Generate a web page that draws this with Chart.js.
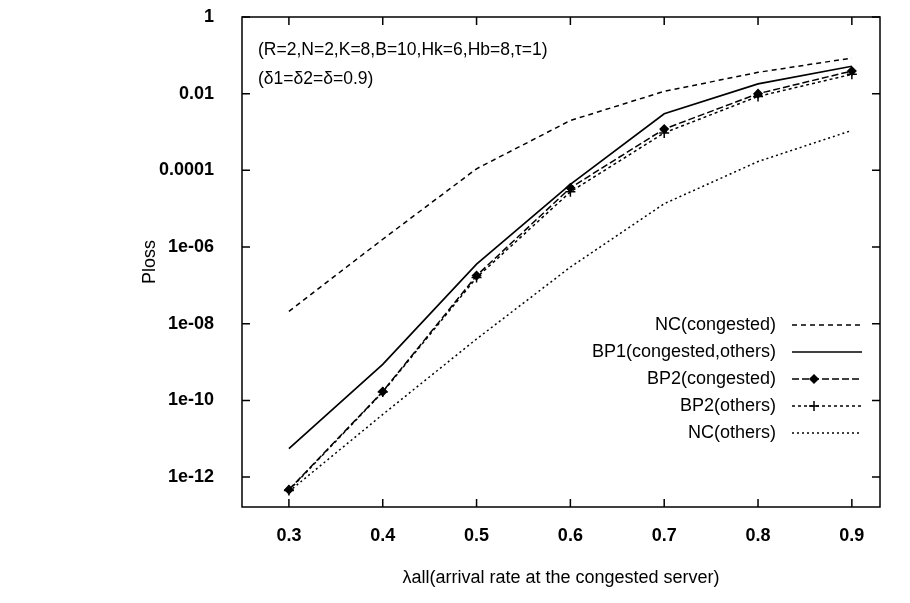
<!DOCTYPE html>
<html>
<head>
<meta charset="utf-8">
<script src="https://cdn.jsdelivr.net/npm/chart.js@4.4.0/dist/chart.umd.min.js"></script>
<style>
  html, body { margin: 0; padding: 0; background: #fff; }
  #wrap { width: 910px; height: 603px; }
</style>
</head>
<body>
<div id="wrap"><canvas id="chart" width="910" height="603"></canvas></div>
<script>
// arrival rate at the congested server
const lambdas = [0.3, 0.4, 0.5, 0.6, 0.7, 0.8, 0.9];

// loss probabilities
const ncCongested  = [2.1e-8, 1.6e-6, 1.1e-4, 2.0e-3, 1.15e-2, 3.6e-2, 8.5e-2];
const bp1          = [5.5e-12, 8.7e-10, 3.6e-7, 4.3e-5, 3.0e-3, 1.8e-2, 5.2e-2];
const bp2Congested = [4.7e-13, 1.7e-10, 1.8e-7, 3.5e-5, 1.2e-3, 1.0e-2, 3.9e-2];
const bp2Others    = [4.5e-13, 1.65e-10, 1.6e-7, 2.75e-5, 9.5e-4, 8.5e-3, 3.2e-2];
const ncOthers     = [4.2e-13, 4.3e-11, 4.0e-9, 3.0e-7, 1.35e-5, 1.7e-4, 1.1e-3];

const xTicks = [0.3, 0.4, 0.5, 0.6, 0.7, 0.8, 0.9];
const yTicks = [1e-12, 1e-10, 1e-8, 1e-6, 1e-4, 1e-2, 1];
const yTickLabels = ['1e-12', '1e-10', '1e-08', '1e-06', '0.0001', '0.01', '1'];

const seriesNames = ['NC(congested)', 'BP1(congested,others)', 'BP2(congested)', 'BP2(others)', 'NC(others)'];
const notes = ['(R=2,N=2,K=8,B=10,Hk=6,Hb=8,\u03c4=1)', '(\u03b41=\u03b42=\u03b4=0.9)'];

const FONT = "'Liberation Sans', Arial, Helvetica, sans-serif";

const toPoints = (ys) => ys.map((y, i) => ({ x: lambdas[i], y: y }));

const mkSet = (label, data, dash, width, style, radius) => ({
    label: label,
    data: toPoints(data),
    borderColor: '#000',
    backgroundColor: '#000',
    borderWidth: width,
    borderDash: dash,
    pointStyle: style || 'circle',
    pointRadius: radius || 0,
    pointBorderWidth: 1.5,
    pointHoverRadius: radius || 0,
    tension: 0,
    fill: false
});

const datasets = [
    mkSet(seriesNames[0], ncCongested, [5, 4], 1.5),
    mkSet(seriesNames[1], bp1, [], 1.7),
    mkSet(seriesNames[2], bp2Congested, [7, 3], 1.5, 'rectRot', 4),
    mkSet(seriesNames[3], bp2Others, [3, 3], 1.5, 'cross', 5),
    mkSet(seriesNames[4], ncOthers, [2, 3], 1.5)
];

// gnuplot-like frame with inward ticks, notes and legend
const gnuFrame = {
    id: 'gnuFrame',
    afterDraw(chart) {
        const ctx = chart.ctx;
        const a = chart.chartArea;
        const xs = chart.scales.x;
        const ys = chart.scales.y;
        ctx.save();
        ctx.strokeStyle = '#000';
        ctx.lineWidth = 1.5;
        ctx.setLineDash([]);
        ctx.strokeRect(a.left, a.top, a.right - a.left, a.bottom - a.top);

        const tl = 8;
        ctx.beginPath();
        for (const v of xTicks) {
            const px = xs.getPixelForValue(v);
            ctx.moveTo(px, a.bottom); ctx.lineTo(px, a.bottom - tl);
            ctx.moveTo(px, a.top); ctx.lineTo(px, a.top + tl);
        }
        for (const v of yTicks) {
            const py = ys.getPixelForValue(v);
            ctx.moveTo(a.left, py); ctx.lineTo(a.left + tl, py);
            ctx.moveTo(a.right, py); ctx.lineTo(a.right - tl, py);
        }
        ctx.stroke();

        // parameter notes
        ctx.fillStyle = '#000';
        ctx.font = '17.5px ' + FONT;
        ctx.textAlign = 'left';
        ctx.textBaseline = 'middle';
        ctx.fillText(notes[0], a.left + 16, 50);
        ctx.fillText(notes[1], a.left + 16, 79);

        // legend
        ctx.font = '18px ' + FONT;
        const textRight = 776, lineStart = 792, lineEnd = 862;
        let rowY = 325;
        chart.data.datasets.forEach((ds) => {
            ctx.textAlign = 'right';
            ctx.fillText(ds.label, textRight, rowY);
            ctx.lineWidth = ds.borderWidth;
            ctx.setLineDash(ds.borderDash);
            ctx.beginPath();
            ctx.moveTo(lineStart, rowY);
            ctx.lineTo(lineEnd, rowY);
            ctx.stroke();
            ctx.setLineDash([]);
            if (ds.pointRadius > 0) {
                Chart.helpers.drawPoint(ctx, {
                    pointStyle: ds.pointStyle,
                    radius: ds.pointRadius,
                    borderWidth: ds.pointBorderWidth,
                    rotation: 0
                }, lineStart + 22, rowY);
                ctx.fill();
            }
            rowY += 27;
        });
        ctx.restore();
    }
};

new Chart(document.getElementById('chart'), {
    type: 'line',
    data: { datasets: datasets },
    options: {
        responsive: false,
        animation: false,
        events: [],
        layout: { padding: { top: 17, right: 30, left: 0, bottom: 0 } },
        plugins: {
            legend: { display: false },
            tooltip: { enabled: false }
        },
        scales: {
            x: {
                type: 'linear',
                min: 0.25,
                max: 0.93,
                afterBuildTicks: (scale) => { scale.ticks = xTicks.map(v => ({ value: v })); },
                afterFit: (scale) => { scale.height = 96; scale.paddingLeft = 0; scale.paddingRight = 0; },
                grid: { display: false },
                border: { display: false },
                ticks: {
                    autoSkip: false,
                    maxRotation: 0,
                    padding: 10,
                    color: '#000',
                    font: { family: FONT, size: 18, weight: 'bold' },
                    callback: (v) => v.toFixed(1)
                },
                title: {
                    display: true,
                    text: '\u03bball(arrival rate at the congested server)',
                    color: '#000',
                    font: { family: FONT, size: 18 },
                    padding: { top: 0, bottom: 14 }
                }
            },
            y: {
                type: 'logarithmic',
                min: 1.66e-13,
                max: 1,
                afterBuildTicks: (scale) => { scale.ticks = yTicks.map(v => ({ value: v })); },
                afterFit: (scale) => { scale.width = 242; scale.paddingTop = 0; scale.paddingBottom = 0; },
                grid: { display: false },
                border: { display: false },
                ticks: {
                    autoSkip: false,
                    padding: 20,
                    color: '#000',
                    font: { family: FONT, size: 18, weight: 'bold' },
                    callback: (v) => yTickLabels[yTicks.indexOf(v)]
                },
                title: {
                    display: true,
                    text: 'Ploss',
                    color: '#000',
                    font: { family: FONT, size: 18 },
                    padding: { top: 139, bottom: 0 }
                }
            }
        }
    },
    plugins: [gnuFrame]
});
</script>
</body>
</html>
